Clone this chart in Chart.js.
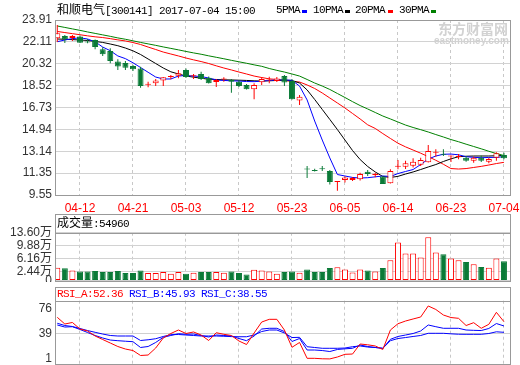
<!DOCTYPE html>
<html lang="zh-CN">
<head>
<meta charset="utf-8">
<script src="https://cdn.jsdelivr.net/npm/chart.js@4/dist/chart.umd.min.js"></script>
<style>
html, body { margin: 0; padding: 0; background: #fff; overflow: hidden; }
body { position: relative; width: 520px; height: 365px; font-family: "Liberation Sans", "Noto Sans CJK SC", sans-serif; }
canvas { position: absolute; left: 0; }
#priceChart { top: 0; }
#volChart { top: 214px; }
#rsiChart { top: 287px; }
.lbl { position: absolute; white-space: nowrap; font-size: 12px; line-height: 14px; color: #000; }
.mono { font-family: "Liberation Mono", monospace; font-size: 11px; letter-spacing: -0.6px; }
.key { position: absolute; width: 5px; height: 3px; top: 10px; }
</style>
</head>
<body>
<canvas id="priceChart" width="520" height="215"></canvas>
<canvas id="volChart" width="520" height="68"></canvas>
<canvas id="rsiChart" width="520" height="78"></canvas>

<div class="lbl" style="left:57px;top:3px">和顺电气<span class="mono">[300141] 2017-07-04 15:00</span></div>
<div class="lbl mono" style="left:276px;top:3px">5PMA</div>
<div class="key" style="left:302px;background:#0000ff"></div>
<div class="lbl mono" style="left:313px;top:3px">10PMA</div>
<div class="key" style="left:345px;background:#000"></div>
<div class="lbl mono" style="left:355px;top:3px">20PMA</div>
<div class="key" style="left:388px;background:#ff0000"></div>
<div class="lbl mono" style="left:399px;top:3px">30PMA</div>
<div class="key" style="left:431px;background:#008000"></div>
<div class="lbl" style="left:438px;top:22px;font-size:14px;font-weight:bold;color:#d2d2d2">东方财富网</div>
<div class="lbl" style="left:434px;top:34px;font-size:10px;font-weight:bold;color:#d2d2d2">eastmoney.com</div>

<div class="lbl" style="left:57px;top:216px">成交量<span class="mono">:54960</span></div>
<div class="lbl mono" style="left:57px;top:287px;color:#ff0000">RSI_A:52.36</div>
<div class="lbl mono" style="left:129px;top:287px;color:#0000ff">RSI_B:45.93</div>
<div class="lbl mono" style="left:201px;top:287px;color:#0000ff">RSI_C:38.55</div>

<script>
// x axis ticks (trading-day index -> date)
const tickIdx = [3, 10, 17, 24, 31, 38, 45, 52, 59]
const tickLabels = ["04-12", "04-21", "05-03", "05-12", "05-23", "06-05", "06-14", "06-23", "07-04"]
const priceTicks = [9.55, 11.35, 13.14, 14.94, 16.73, 18.52, 20.32, 22.11, 23.91]
const volTicks = [0, 2.44, 6.16, 9.88, 13.6]
const rsiTicks = [1, 39, 76]

// daily candles, 04-07 .. 07-04
const open = [22.41, 22.59, 22.43, 22.56, 22.13, 22.27, 21.51, 21.37, 20.50, 20.38,
    20.14, 19.93, 18.60, 18.72, 18.95, 19.23, 19.34, 19.81, 19.29, 19.48,
    19.18, 18.82, 19.03, 18.99, 18.85, 18.58, 18.22, 18.80, 18.95, 18.90,
    19.31, 18.90, 17.30, 11.72, 11.56, 11.72, 11.52, 10.62, 10.78, 10.78,
    10.84, 11.46, 11.19, 11.07, 10.51, 11.87, 11.87, 11.95, 12.04, 12.23,
    13.01, 12.91, 12.71, 12.67, 12.61, 12.36, 12.61, 12.28, 12.61, 12.83]
const high = [23.50, 22.68, 22.68, 22.64, 22.35, 22.31, 21.67, 21.59, 20.68, 20.55,
    20.22, 20.08, 18.85, 19.07, 19.23, 19.40, 19.81, 19.93, 19.48, 19.67,
    19.27, 19.07, 19.21, 19.07, 18.99, 18.66, 18.72, 19.23, 19.26, 19.23,
    19.40, 19.07, 17.76, 11.93, 11.71, 11.93, 11.60, 10.70, 11.07, 11.03,
    11.38, 11.60, 11.38, 11.11, 11.66, 12.42, 12.36, 12.56, 12.61, 13.65,
    13.30, 13.30, 12.79, 12.91, 12.75, 12.71, 12.79, 12.61, 13.05, 13.02]
const low = [22.10, 22.02, 22.19, 22.02, 22.00, 21.51, 20.96, 20.36, 19.81, 19.81,
    19.72, 18.35, 18.39, 18.49, 18.49, 19.04, 19.13, 19.15, 19.07, 18.99,
    18.70, 18.41, 18.85, 17.94, 18.41, 18.20, 17.40, 18.58, 18.72, 18.82,
    18.49, 17.39, 16.93, 10.94, 11.48, 11.52, 10.41, 9.90, 10.58, 10.70,
    10.74, 11.11, 11.00, 10.45, 10.49, 11.66, 11.68, 11.81, 11.93, 12.22,
    12.69, 12.75, 12.26, 12.48, 12.28, 12.20, 12.26, 12.15, 12.36, 12.48]
const close = [22.82, 22.33, 22.60, 22.05, 22.07, 21.69, 21.10, 20.55, 20.09, 20.00,
    19.86, 18.50, 18.66, 18.95, 19.21, 19.27, 19.54, 19.23, 19.31, 19.07,
    18.72, 18.99, 19.07, 18.85, 18.49, 18.22, 18.58, 19.07, 19.00, 19.10,
    18.78, 17.40, 17.62, 11.64, 11.52, 11.66, 10.62, 10.70, 10.99, 10.95,
    11.27, 11.27, 11.23, 10.45, 11.52, 11.93, 12.15, 12.28, 12.42, 13.16,
    13.05, 12.86, 12.75, 12.71, 12.36, 12.61, 12.36, 12.50, 12.97, 12.56]

// volume in 万
const vol = [3.65, 3.45, 2.88, 2.59, 2.59, 2.68, 2.40, 2.40, 2.68, 2.11,
    2.11, 2.88, 2.11, 2.11, 2.40, 1.92, 2.40, 1.92, 2.20, 2.40,
    2.40, 2.40, 2.20, 2.59, 2.11, 1.73, 3.08, 2.88, 2.59, 1.92,
    2.40, 2.59, 2.20, 3.16, 2.40, 2.40, 3.55, 3.74, 3.16, 2.30,
    3.16, 2.88, 2.59, 3.55, 5.75, 10.84, 7.67, 7.67, 6.52, 12.27,
    7.95, 7.47, 6.23, 5.75, 5.27, 4.60, 3.83, 3.64, 6.23, 5.50]

// moving averages
const ma5 = [22.13, 22.27, 22.38, 22.45, 22.35, 22.12, 21.69, 21.39, 20.96, 20.74,
    20.40, 20.01, 19.62, 19.23, 19.07, 19.07, 19.31, 19.36, 19.31, 19.27,
    19.15, 18.99, 18.95, 18.92, 18.90, 18.86, 18.85, 18.89, 18.95, 18.99,
    18.99, 18.96, 18.49, 17.35, 15.62, 14.06, 12.59, 11.23, 11.11, 10.99,
    10.94, 10.97, 11.04, 11.11, 11.07, 11.31, 11.48, 11.64, 12.05, 12.50,
    12.75, 12.89, 12.91, 12.85, 12.69, 12.64, 12.61, 12.63, 12.64, 12.69]
const ma10 = [22.35, 22.33, 22.30, 22.27, 22.23, 22.15, 22.07, 21.94, 21.80, 21.61,
    21.38, 21.08, 20.71, 20.34, 19.97, 19.66, 19.48, 19.31, 19.22, 19.13,
    19.05, 19.03, 19.00, 18.99, 18.97, 18.95, 18.92, 18.90, 18.92, 18.95,
    18.97, 18.95, 18.74, 18.17, 17.39, 16.57, 15.75, 14.92, 14.06, 13.20,
    12.46, 11.89, 11.44, 11.07, 10.99, 11.08, 11.27, 11.44, 11.64, 11.85,
    12.05, 12.30, 12.52, 12.69, 12.73, 12.75, 12.75, 12.75, 12.77, 12.79]
const ma20 = [22.97, 22.88, 22.79, 22.70, 22.61, 22.53, 22.47, 22.38, 22.28, 22.19,
    22.06, 21.90, 21.69, 21.49, 21.28, 21.12, 20.96, 20.79, 20.64, 20.50,
    20.34, 20.15, 19.97, 19.81, 19.64, 19.48, 19.31, 19.19, 19.08, 19.03,
    18.95, 18.86, 18.82, 18.58, 18.29, 17.92, 17.51, 17.10, 16.69, 16.24,
    15.79, 15.31, 15.01, 14.59, 14.19, 13.80, 13.50, 13.24, 12.98, 12.70,
    12.40, 12.07, 11.72, 11.68, 11.72, 11.81, 11.90, 12.01, 12.13, 12.23]
const ma30 = [23.42, 23.30, 23.18, 23.06, 22.93, 22.81, 22.69, 22.57, 22.44, 22.33,
    22.20, 22.07, 21.95, 21.83, 21.70, 21.58, 21.46, 21.33, 21.21, 21.10,
    20.97, 20.85, 20.73, 20.60, 20.48, 20.36, 20.23, 20.11, 19.93, 19.78,
    19.64, 19.48, 19.31, 19.03, 18.74, 18.49, 18.21, 17.88, 17.55, 17.21,
    16.89, 16.61, 16.32, 16.03, 15.79, 15.54, 15.29, 15.09, 14.91, 14.72,
    14.51, 14.31, 14.10, 13.92, 13.72, 13.53, 13.34, 13.14, 12.95, 12.79]

// RSI lines
const rsiA = [63.2, 53.1, 55.4, 45.5, 42.5, 34.9, 29.6, 24.3, 19.0, 15.2,
    12.9, 5.4, 6.1, 16.7, 31.9, 38.7, 44.0, 38.7, 41.0, 36.4,
    28.1, 39.9, 37.5, 35.7, 27.3, 22.0, 39.5, 56.1, 60.2, 60.2,
    44.0, 17.8, 25.1, 1.1, 1.1, 0.4, 0.2, 3.1, 7.2, 7.6,
    22.8, 21.6, 19.8, 14.5, 44.0, 53.5, 57.6, 60.7, 63.7, 80.4,
    75.1, 66.7, 62.9, 61.7, 50.8, 55.1, 46.6, 52.6, 70.8, 56.6]
const rsiB = [51.6, 48.5, 49.0, 44.8, 40.2, 35.7, 31.9, 28.8, 27.8, 27.0,
    26.3, 17.5, 19.0, 25.1, 32.9, 35.7, 38.4, 37.5, 37.9, 35.7,
    33.4, 36.4, 35.7, 34.9, 31.1, 27.8, 34.9, 45.5, 46.6, 46.6,
    41.7, 26.6, 31.1, 13.7, 13.7, 12.9, 11.4, 14.5, 15.5, 16.3,
    21.3, 19.0, 17.5, 16.3, 29.9, 34.2, 36.4, 38.7, 42.5, 51.6,
    49.0, 46.6, 46.6, 46.6, 44.0, 43.5, 43.2, 46.3, 53.8, 50.1]
const rsiC = [54.2, 50.8, 49.3, 46.3, 43.2, 40.5, 37.9, 35.7, 34.9, 34.9,
    34.9, 28.1, 29.2, 30.8, 34.2, 36.9, 37.2, 36.4, 35.7, 34.9,
    34.9, 34.9, 34.5, 34.0, 33.8, 33.8, 36.4, 41.7, 44.0, 44.0,
    39.5, 32.6, 32.9, 18.7, 17.5, 16.3, 16.3, 16.3, 16.7, 18.7,
    19.8, 18.2, 17.5, 16.3, 27.8, 31.1, 32.6, 34.2, 35.7, 39.0,
    39.0, 39.0, 38.2, 37.6, 37.5, 37.5, 37.5, 38.7, 41.3, 40.5]

const RED = "#ff0000"
const GREEN = "#0a7a37"
const idx = close.map((c, i) => i)
const colors = idx.map(i => close[i] >= open[i] ? RED : GREEN)
const fills = idx.map(i => close[i] >= open[i] ? "#ffffff" : GREEN)

Chart.defaults.font.family = "'Liberation Sans', 'Noto Sans CJK SC', sans-serif"
Chart.defaults.font.size = 12
Chart.defaults.plugins.legend.display = false
Chart.defaults.plugins.tooltip.enabled = false

// grey frame round the plot (and the title box above it)
const frame = {
    id: "frame",
    afterDraw(chart, args, opts) {
        const { ctx, chartArea } = chart
        const l = Math.round(chartArea.left) + 0.5
        const r = Math.round(chartArea.right) - 0.5
        const t = Math.round(chartArea.top) + 0.5
        const b = Math.round(chartArea.bottom) + 0.5
        const boxTop = opts.boxTop != null ? opts.boxTop + 0.5 : t
        ctx.save()
        ctx.strokeStyle = "#999"
        ctx.lineWidth = 1
        ctx.strokeRect(l, boxTop, r - l, b - boxTop)
        if (opts.boxTop != null) {
            ctx.beginPath()
            ctx.moveTo(l, t)
            ctx.lineTo(r, t)
            ctx.stroke()
        }
        ctx.restore()
    },
}

function xAxis(showLabels) {
    return {
        type: "linear",
        min: -0.3,
        max: 59.93,
        offset: false,
        afterBuildTicks: s => { s.ticks = tickIdx.map(v => ({ value: v })) },
        afterFit: s => {
            s.height = showLabels ? 20 : 0
            s.paddingLeft = 0
            s.paddingRight = 0
        },
        grid: { color: "#c8c8c8", drawTicks: false, offset: false },
        border: { display: false, dash: [3, 3] },
        ticks: {
            display: showLabels,
            padding: 6,
            color: RED,
            maxRotation: 0,
            autoSkip: false,
            callback: (v, i) => tickLabels[i],
        },
    }
}

function yAxis(min, max, values, fmt, gridColor) {
    return {
        min: min,
        max: max,
        afterBuildTicks: s => { s.ticks = values.map(v => ({ value: v })) },
        afterFit: s => {
            s.width = 55
            s.paddingTop = 0
            s.paddingBottom = 0
        },
        grid: { color: gridColor, drawTicks: false },
        border: { display: false },
        ticks: { padding: 3, color: "#333", autoSkip: false, callback: fmt },
    }
}

function lineSet(values, color) {
    return {
        type: "line",
        data: values.map((v, i) => ({ x: i, y: v })),
        borderColor: color,
        borderWidth: 1,
        pointRadius: 0,
        tension: 0,
        order: 5,
    }
}

const common = {
    responsive: false,
    animation: false,
    events: [],
}

// price panel
new Chart(document.getElementById("priceChart"), {
    type: "bar",
    data: {
        datasets: [
            {
                data: idx.map(i => ({ x: i, y: [low[i], high[i]] })),
                backgroundColor: colors,
                barThickness: 1,
                grouped: false,
                inflateAmount: 0,
                order: 3,
            },
            {
                data: idx.map(i => ({ x: i, y: [Math.min(open[i], close[i]), Math.max(open[i], close[i])] })),
                backgroundColor: fills,
                borderColor: colors,
                borderWidth: 1,
                borderSkipped: false,
                barThickness: 6,
                minBarLength: 1,
                grouped: false,
                inflateAmount: 0,
                order: 2,
            },
            lineSet(ma5, "#0000ff"),
            lineSet(ma10, "#000000"),
            lineSet(ma20, "#ff0000"),
            lineSet(ma30, "#008000"),
        ],
    },
    options: {
        ...common,
        layout: { padding: { top: 20, right: 9, bottom: 0, left: 0 } },
        scales: {
            x: xAxis(true),
            y: yAxis(9.55, 23.91, priceTicks, v => v.toFixed(2), "#d2d2d2"),
        },
    },
    plugins: [frame],
})

// volume panel
new Chart(document.getElementById("volChart"), {
    type: "bar",
    data: {
        datasets: [
            {
                data: idx.map(i => ({ x: i, y: vol[i] })),
                backgroundColor: fills,
                borderColor: colors,
                borderWidth: 1,
                borderSkipped: false,
                barThickness: 6,
                grouped: false,
                inflateAmount: 0,
            },
        ],
    },
    options: {
        ...common,
        layout: { padding: { top: 18.7, right: 9, bottom: 1.5, left: 0 } },
        scales: {
            x: xAxis(false),
            y: yAxis(0, 13.6, volTicks, v => (v === 0 ? "0" : v.toFixed(2) + "万"), "#d2d2d2"),
        },
        plugins: { frame: { boxTop: 0 } },
    },
    plugins: [frame],
})

// RSI panel
const rsiY = yAxis(-7.5, 88.4, rsiTicks, v => String(v), "#d2d2d2")
rsiY.grid.color = c => (c.tick && c.tick.value === 39 ? "#cfcfcf" : "rgba(0,0,0,0)")
new Chart(document.getElementById("rsiChart"), {
    type: "line",
    data: {
        datasets: [
            lineSet(rsiA, "#ff0000"),
            lineSet(rsiB, "#0000ff"),
            lineSet(rsiC, "#0000ff"),
        ],
    },
    options: {
        ...common,
        layout: { padding: { top: 13.7, right: 9, bottom: 1, left: 0 } },
        scales: {
            x: xAxis(false),
            y: rsiY,
        },
        plugins: { frame: { boxTop: 0 } },
    },
    plugins: [frame],
})
</script>
</body>
</html>
